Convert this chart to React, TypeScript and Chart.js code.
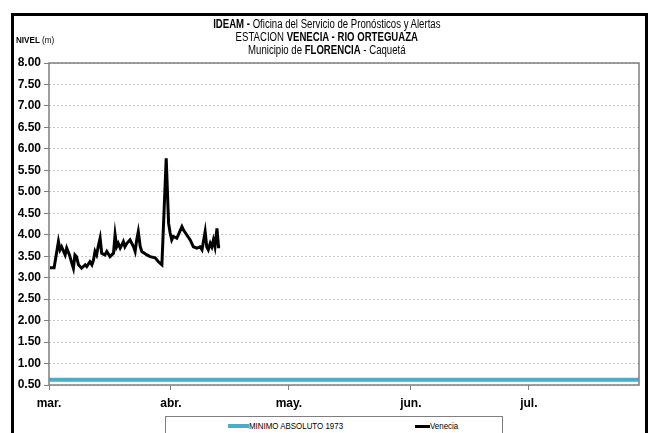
import React, { useEffect, useRef } from "react";
import { Chart, registerables } from "chart.js";

Chart.register(...registerables);

// Days since 1 March
const monthTickDays = [0, 31, 61, 92, 122];
const monthTickLabels = ["mar.", "abr.", "may.", "jun.", "jul."];
const xMin = 0;
const xMax = 150;

const minimoLabel = "MINIMO ABSOLUTO 1973";
const minimoValue = 0.62;

const veneciaLabel = "Venecia";
const veneciaDays = [
  0.25, 1.3, 2.4, 2.8, 3.2, 4.1, 4.5, 5.2, 5.8, 6.2, 6.6, 7.0, 7.5, 8.3, 9.2, 9.6,
  10.4, 10.9, 11.3, 11.7, 12.1, 12.5, 13.0, 13.4, 14.2, 14.7, 15.5, 16.4, 16.8,
  17.2, 17.6, 18.1, 18.5, 18.9, 19.3, 19.8, 20.6, 21.5, 21.9, 22.3, 22.7, 23.2,
  23.6, 24.9, 25.7, 27.0, 27.8, 28.7, 29.8, 30.4, 30.8, 31.2, 31.6, 32.5, 32.9,
  33.8, 34.2, 35.0, 35.9, 36.7, 37.6, 38.4, 38.9, 39.7, 40.1, 40.5, 41.0, 41.4,
  41.8, 42.2, 42.7, 43.1, 43.5,
];
const veneciaValues = [
  3.23, 3.23, 3.84, 3.65, 3.72, 3.53, 3.69, 3.53, 3.34, 3.22, 3.53, 3.49, 3.3, 3.22,
  3.3, 3.26, 3.37, 3.3, 3.41, 3.61, 3.53, 3.72, 3.92, 3.57, 3.53, 3.61, 3.49, 3.57,
  4.0, 3.72, 3.8, 3.69, 3.76, 3.84, 3.72, 3.8, 3.88, 3.72, 3.61, 3.88, 4.07, 3.72,
  3.61, 3.53, 3.49, 3.46, 3.37, 3.3, 5.78, 4.27, 4.04, 3.88, 3.96, 3.92, 4.0, 4.19,
  4.11, 4.0, 3.88, 3.72, 3.69, 3.72, 3.65, 4.07, 3.72, 3.65, 3.8, 3.72, 3.88, 3.72,
  4.15, 3.72, 3.72,
];

const yMin = 0.5;
const yMax = 8;
const yStep = 0.5;

const FONT = "'Liberation Sans Narrow', 'Arial Narrow', 'Liberation Sans', Arial, sans-serif";

const plotBorder = {
  id: "plotBorder",
  afterDraw(chart: any) {
    const { ctx, chartArea } = chart;
    ctx.save();
    ctx.strokeStyle = "#7f7f7f";
    ctx.lineWidth = 1.5;
    ctx.strokeRect(chartArea.left, chartArea.top, chartArea.right - chartArea.left, chartArea.bottom - chartArea.top);
    ctx.restore();
  },
};

export default function App() {
  const ref = useRef<HTMLCanvasElement>(null);
  useEffect(() => {
    if (!ref.current) return;
    const chart = new Chart(ref.current, {
      type: "line",
      data: {
        datasets: [
          {
            label: veneciaLabel,
            data: veneciaDays.map((d, i) => ({ x: d, y: veneciaValues[i] })),
            borderColor: "#000000",
            borderWidth: 3,
            pointRadius: 0,
            tension: 0,
            order: 1,
          },
          {
            label: minimoLabel,
            data: [
              { x: xMin, y: minimoValue },
              { x: xMax, y: minimoValue },
            ],
            borderColor: "#4bacc6",
            borderWidth: 4,
            pointRadius: 0,
            order: 2,
          },
        ],
      },
      options: {
        animation: false,
        responsive: false,
        maintainAspectRatio: false,
        layout: { padding: { left: 0, top: 63, right: 14, bottom: 18 } },
        plugins: { legend: { display: false }, tooltip: { enabled: false } },
        scales: {
          x: {
            type: "linear",
            min: xMin,
            max: xMax,
            afterBuildTicks: (scale: any) => {
              scale.ticks = monthTickDays.map((v) => ({ value: v }));
            },
            afterFit: (scale: any) => {
              scale.height = 30;
            },
            ticks: {
              autoSkip: false,
              maxRotation: 0,
              padding: 6,
              color: "#000",
              font: { family: FONT, size: 12, weight: "bold" },
              callback: (v: any) => {
                const i = monthTickDays.indexOf(v);
                return i >= 0 ? monthTickLabels[i] : "";
              },
            },
            grid: { drawOnChartArea: false, drawTicks: true, tickLength: 5, color: "#7f7f7f" },
            border: { display: false },
          },
          y: {
            type: "linear",
            min: yMin,
            max: yMax,
            afterFit: (scale: any) => {
              scale.width = 49;
            },
            ticks: {
              stepSize: yStep,
              padding: 3,
              color: "#000",
              font: { family: FONT, size: 12, weight: "bold" },
              callback: (v: any) => Number(v).toFixed(2),
            },
            grid: {
              color: "#c8c8c8",
              lineWidth: 1,
              tickLength: 5,
              tickColor: "#7f7f7f",
              tickBorderDash: [],
            },
            border: { display: false, dash: [2, 2] },
          },
        },
      },
      plugins: [plotBorder],
    });
    return () => chart.destroy();
  }, []);

  const textStyle: React.CSSProperties = {
    position: "absolute",
    left: 0,
    width: 653,
    textAlign: "center",
    fontFamily: FONT,
    fontSize: 12,
    lineHeight: "13px",
    color: "#000",
    whiteSpace: "nowrap",
    transform: "scaleX(0.8)",
    transformOrigin: "328px 0",
  };

  const legendText: React.CSSProperties = {
    display: "inline-block",
    transform: "scaleX(0.88)",
    transformOrigin: "0 50%",
  };

  return (
    <div style={{ position: "fixed", left: 0, top: 0, width: 653, height: 433, background: "#fff", overflow: "hidden" }}>
      <div
        style={{
          position: "absolute",
          left: 11,
          top: 13,
          width: 637,
          height: 440,
          border: "3px solid #000",
          boxSizing: "border-box",
        }}
      />
      <canvas ref={ref} width={653} height={433} style={{ position: "absolute", left: 0, top: 0 }} />
      <div style={{ ...textStyle, top: 18 }}>
        <b>IDEAM - </b>Oficina del Servicio de Pronósticos y Alertas
      </div>
      <div style={{ ...textStyle, top: 31 }}>
        ESTACION <b>VENECIA - RIO ORTEGUAZA</b>
      </div>
      <div style={{ ...textStyle, top: 44 }}>
        Municipio de <b>FLORENCIA</b> - Caquetá
      </div>
      <div
        style={{
          position: "absolute",
          left: 16,
          top: 35,
          fontFamily: FONT,
          fontSize: 9,
          whiteSpace: "nowrap",
          transform: "scaleX(0.9)",
          transformOrigin: "0 0",
        }}
      >
        <b>NIVEL</b> (m)
      </div>
      <div
        style={{
          position: "absolute",
          left: 165,
          top: 416,
          width: 338,
          height: 40,
          border: "1px solid #7f7f7f",
          boxSizing: "border-box",
          background: "#fff",
        }}
      >
        <div style={{ position: "absolute", left: 62, top: 4, display: "flex", alignItems: "center", fontFamily: FONT, fontSize: 9, whiteSpace: "nowrap" }}>
          <span style={{ display: "inline-block", width: 21, height: 4, background: "#4bacc6" }} />
          <span style={legendText}>{minimoLabel}</span>
        </div>
        <div style={{ position: "absolute", left: 249, top: 4, display: "flex", alignItems: "center", fontFamily: FONT, fontSize: 9, whiteSpace: "nowrap" }}>
          <span style={{ display: "inline-block", width: 15, height: 3, background: "#000" }} />
          <span style={legendText}>{veneciaLabel}</span>
        </div>
      </div>
    </div>
  );
}
